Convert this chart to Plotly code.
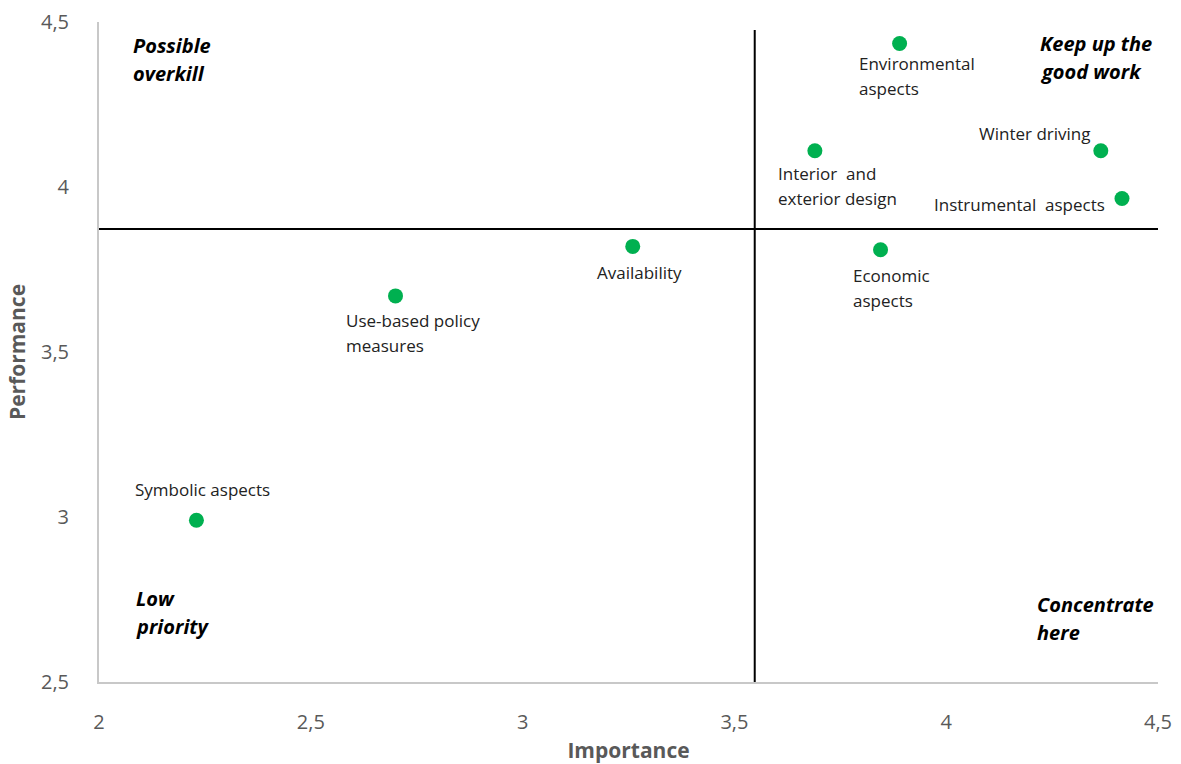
import plotly.graph_objects as go

# ---- data ----
attributes = ["Environmental aspects", "Interior and exterior design", "Winter driving",
              "Instrumental aspects", "Availability", "Economic aspects",
              "Use-based policy measures", "Symbolic aspects"]
label_lines = [["Environmental", "aspects"], ["Interior  and", "exterior design"], ["Winter driving"],
               ["Instrumental  aspects"], ["Availability"], ["Economic", "aspects"],
               ["Use-based policy", "measures"], ["Symbolic aspects"]]
importance = [3.89, 3.69, 4.365, 4.415, 3.26, 3.845, 2.70, 2.23]
performance = [4.435, 4.11, 4.11, 3.965, 3.82, 3.81, 3.67, 2.99]
importance_split = 3.548
performance_split = 3.873
x_ticks = [2, 2.5, 3, 3.5, 4, 4.5]
x_ticklabels = ["2", "2,5", "3", "3,5", "4", "4,5"]
y_ticks = [2.5, 3, 3.5, 4, 4.5]
y_ticklabels = ["2,5", "3", "3,5", "4", "4,5"]
quadrant_names = [["Possible", "overkill"], ["Keep up the", "good work"],
                  ["Low", "priority"], ["Concentrate", "here"]]

# ---- styles ----
FONT = "Open Sans"
GREEN = "#00B050"
GREY = "#595959"
# anchor, dx, dy (pixels from point to first line centre)
label_style = [("left", -43, 20), ("left", -39, 23), ("right", -9, -17), ("right", -15, 6),
               ("center", 7, 26), ("left", -30, 26), ("left", -52, 25), ("left", -63, -31)]
LINE_GAP = 25
# quadrant label positions in paper coords (left x, first line centre y)
quad_pos = [(0.030, 0.964), (0.887, 0.967), (0.033, 0.127), (0.884, 0.118)]
QUAD_GAP = 28

fig = go.Figure()
fig.add_trace(go.Scatter(
    x=importance, y=performance, mode="markers", text=attributes,
    marker=dict(color=GREEN, size=15, line=dict(width=0)),
    hoverinfo="text", showlegend=False, cliponaxis=False))

# quadrant lines
fig.add_shape(type="line", xref="x", yref="y", x0=importance_split, x1=importance_split,
              y0=2.5, y1=4.476, line=dict(color="black", width=2))
fig.add_shape(type="line", xref="x", yref="y", x0=2, x1=4.5,
              y0=performance_split, y1=performance_split, line=dict(color="black", width=2))

annotations = []
for xi, yi, lines, (anc, dx, dy) in zip(importance, performance, label_lines, label_style):
    for k, line in enumerate(lines):
        annotations.append(dict(
            x=xi, y=yi, xref="x", yref="y", text=line, showarrow=False,
            xanchor=anc, yanchor="middle", xshift=dx, yshift=-(dy + k * LINE_GAP),
            font=dict(family=FONT, size=17, color="#222222")))

for (px, py), lines in zip(quad_pos, quadrant_names):
    for k, line in enumerate(lines):
        annotations.append(dict(
            x=px, y=py, xref="paper", yref="paper", text="<b><i>" + line + "</i></b>",
            showarrow=False, xanchor="left", yanchor="middle", yshift=-k * QUAD_GAP,
            font=dict(family=FONT, size=20, color="black")))

fig.update_layout(
    width=1181, height=764,
    margin=dict(l=99, r=23, t=22, b=82),
    paper_bgcolor="white", plot_bgcolor="white",
    font=dict(family=FONT),
    annotations=annotations,
    xaxis=dict(range=[2, 4.5], tickvals=x_ticks, ticktext=x_ticklabels, automargin=False,
               showgrid=False, zeroline=False, showline=True, linecolor="#C8C8C8", linewidth=2,
               ticks="", ticklabelstandoff=21,
               tickfont=dict(family=FONT, size=20, color=GREY),
               title=dict(text="<b>Importance</b>", standoff=11,
                          font=dict(family=FONT, size=21, color=GREY))),
    yaxis=dict(range=[2.5, 4.5], tickvals=y_ticks, ticktext=y_ticklabels, automargin=False,
               showgrid=False, zeroline=False, showline=True, linecolor="#C8C8C8", linewidth=2,
               ticks="", ticklabelstandoff=24,
               tickfont=dict(family=FONT, size=20, color=GREY),
               title=dict(text="<b>Performance</b>", standoff=10,
                          font=dict(family=FONT, size=21, color=GREY))),
)

fig.write_html("out.html")
